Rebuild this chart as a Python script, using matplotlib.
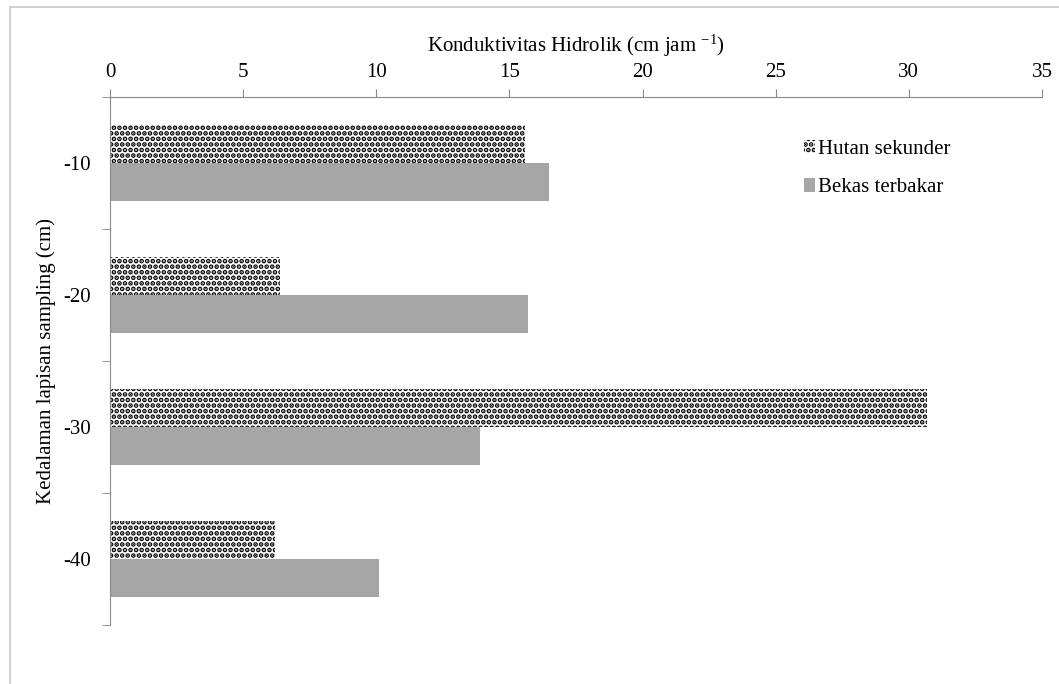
import numpy as np
import matplotlib
matplotlib.use('Agg')
from matplotlib import pyplot as plt
from matplotlib.patches import Rectangle

depths = ['-10', '-20', '-30', '-40']
hutan_sekunder = [15.6, 6.4, 30.7, 6.2]
bekas_terbakar = [16.5, 15.7, 13.9, 10.1]
xticks = [0, 5, 10, 15, 20, 25, 30, 35]

plt.rcParams['font.family'] = ['Liberation Serif', 'DejaVu Serif']
plt.rcParams['mathtext.fontset'] = 'custom'
plt.rcParams['mathtext.rm'] = 'Liberation Serif'
plt.rcParams['mathtext.it'] = 'Liberation Serif'
plt.rcParams['hatch.linewidth'] = 2.4

fig = plt.figure(figsize=(10.59, 6.84), dpi=100)
fig.patches.append(Rectangle((10 / 1059, -0.1), 1.2, 1 - 7 / 684 + 0.1, transform=fig.transFigure,
                             fill=False, edgecolor='#c8c8c8', lw=1.2))
ax = fig.add_axes([110 / 1059, 1 - 625 / 684, 932 / 1059, 528 / 684])

y = np.arange(len(depths))
h = 0.288
ax.barh(y - h / 2, hutan_sekunder, height=h, color='white', edgecolor='black', linewidth=0,
        hatch='...', label='Hutan sekunder')
ax.barh(y + h / 2, bekas_terbakar, height=h, color='#a6a6a6', label='Bekas terbakar')

ax.set_xlim(0, 35)
ax.set_ylim(3.5, -0.5)
ax.xaxis.tick_top()
ax.xaxis.set_label_position('top')
ax.set_xticks(xticks)
ax.set_xlabel(r'Konduktivitas Hidrolik (cm jam $^{-1}$)', fontsize=15, labelpad=8)
ax.set_ylabel('Kedalaman lapisan sampling (cm)', fontsize=15, labelpad=5)

ax.set_yticks(y)
ax.set_yticklabels(depths)
ax.set_yticks(np.arange(-0.5, 4, 1), minor=True)
ax.tick_params(axis='y', which='major', length=0, pad=14, labelsize=15)
ax.tick_params(axis='y', which='minor', length=6, color='#888888')
ax.tick_params(axis='x', length=6, color='#888888', pad=5, labelsize=15)

for s in ['right', 'bottom']:
    ax.spines[s].set_visible(False)
for s in ['left', 'top']:
    ax.spines[s].set_color('#888888')

leg = ax.legend(loc='upper left', bbox_to_anchor=(0.724, 0.955), frameon=False, fontsize=15,
                handlelength=0.55, handleheight=0.6, handletextpad=0.15, labelspacing=0.95)

fig.savefig('out.png', dpi=100)
